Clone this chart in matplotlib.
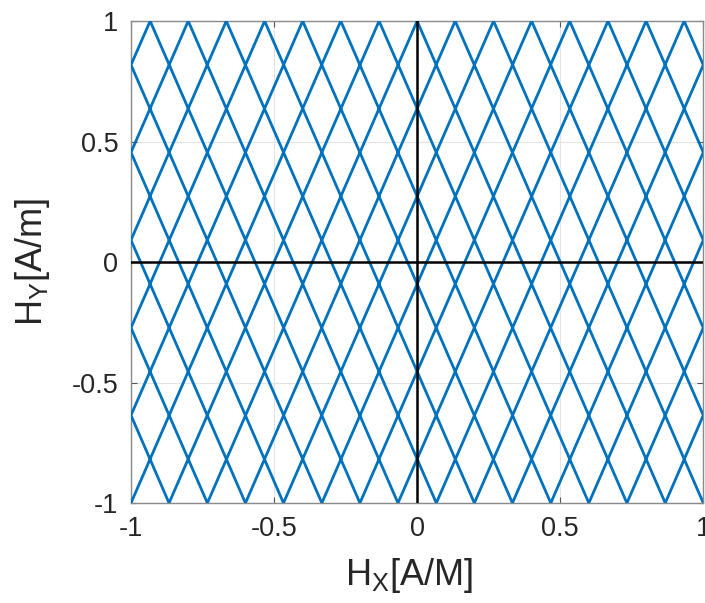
import matplotlib
matplotlib.use("Agg")
import matplotlib.pyplot as plt

plt.rcParams['font.family'] = ['Liberation Sans', 'DejaVu Sans']
plt.rcParams['mathtext.fontset'] = 'custom'
plt.rcParams['mathtext.rm'] = 'Liberation Sans'
plt.rcParams['mathtext.it'] = 'Liberation Sans'

# Vertices of the bouncing trajectory (H_X, H_Y)
path_x = [-1.0, -0.267, 0.467, 1.0, 0.8, 0.067, -0.667, -1.0, -0.6, 0.133,
          0.867, 1.0, 0.4, -0.333, -1.0, -0.933, -0.2, 0.533, 1.0, 0.733,
          0.0, -0.733, -1.0, -0.533, 0.2, 0.933, 1.0, 0.333, -0.4, -1.0,
          -0.867, -0.133, 0.6, 1.0, 0.667, -0.067, -0.8, -1.0, -0.467, 0.267,
          1.0]
path_y = [-1.0, 1.0, -1.0, 0.455, 1.0, -1.0, 1.0, 0.091, -1.0, 1.0,
          -1.0, -0.636, 1.0, -1.0, 0.818, 1.0, -1.0, 1.0, -0.273, -1.0,
          1.0, -1.0, -0.273, 1.0, -1.0, 1.0, 0.818, -1.0, 1.0, -0.636,
          -1.0, 1.0, -1.0, 0.091, 1.0, -1.0, 1.0, 0.455, -1.0, 1.0,
          -1.0]

x_ticks = [-1, -0.5, 0, 0.5, 1]
y_ticks = [-1, -0.5, 0, 0.5, 1]
x_ticklabels = ['-1', '-0.5', '0', '0.5', '1']
y_ticklabels = ['-1', '-0.5', '0', '0.5', '1']
x_label = r'H$_{\mathrm{X}}$[A/M]'
y_label = r'H$_{\mathrm{Y}}$[A/m]'

fig = plt.figure(figsize=(7.05, 6.03), dpi=100)
ax = fig.add_axes([0.1858, 0.1658, 0.8118, 0.7993])

ax.plot(path_x, path_y, color='#0072BD', lw=2.0, solid_joinstyle='miter', zorder=3)
ax.axvline(0, color='black', lw=1.8, zorder=4)
ax.axhline(0, color='black', lw=1.8, zorder=4)

ax.set_xlim(-1, 1)
ax.set_ylim(-1, 1)
ax.set_xticks(x_ticks)
ax.set_yticks(y_ticks)
ax.set_xticklabels(x_ticklabels)
ax.set_yticklabels(y_ticklabels)
ax.grid(True, color='#e3e3e3', lw=0.8, zorder=0)
ax.set_axisbelow(True)
ax.tick_params(direction='in', length=4, width=0.8, color='#555555',
               labelsize=19.5, labelcolor='#262626', top=True, right=True, pad=9)
for s in ax.spines.values():
    s.set_color('#8a8a8a')
    s.set_linewidth(1.0)

ax.set_xlabel(x_label, fontsize=26, color='#262626', labelpad=10)
ax.xaxis.set_label_coords(0.485, -0.11)
ax.set_ylabel(y_label, fontsize=26, color='#262626', labelpad=14)

fig.savefig('out.png', dpi=100)
